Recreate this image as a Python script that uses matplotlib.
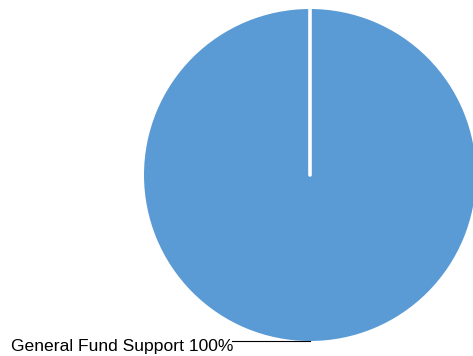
import matplotlib.pyplot as plt

labels = ["General Fund Support"]
values = [100]
colors = ["#5B9BD5"]

W, H = 473, 356
fig = plt.figure(figsize=(W / 100, H / 100), dpi=100)
ax = fig.add_axes([0, 0, 1, 1])

cx, cy, r = 310, 175, 166
ax.pie(values, colors=colors, center=(cx, cy), radius=r, startangle=90,
       counterclock=False, wedgeprops=dict(linewidth=0))
# white separator at the slice boundary
ax.plot([cx, cx], [cy, cy - r - 2], color="white", lw=2.6, solid_capstyle="round")

ax.set_xlim(0, W)
ax.set_ylim(H, 0)
ax.set_aspect("equal")
ax.axis("off")

# label with leader line
total = sum(values)
lab = f"{labels[0]} {values[0] / total * 100:.0f}%"
ly = cy + r
ax.plot([232, cx], [ly, ly], color="black", lw=0.8)
ax.text(233, 351, lab, ha="right", va="baseline", fontsize=12.6,
        family="Liberation Sans", color="black")

fig.savefig("out.png", dpi=100)
